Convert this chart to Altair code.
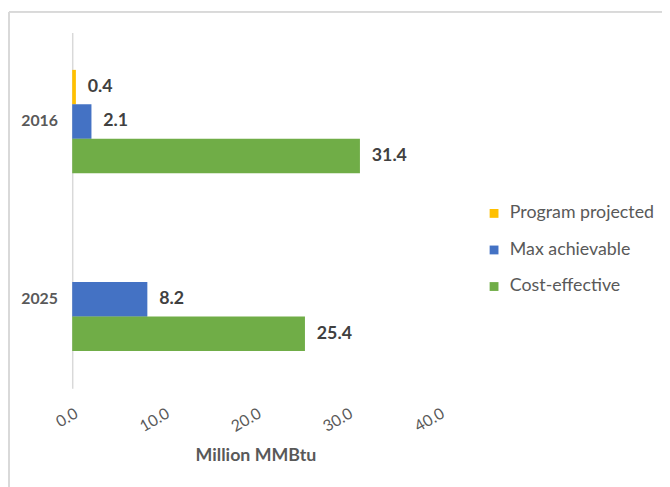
import altair as alt
import pandas as pd

years = ["2016", "2016", "2016", "2025", "2025"]
series = ["Program projected", "Max achievable", "Cost-effective", "Max achievable", "Cost-effective"]
values = [0.4, 2.1, 31.4, 8.2, 25.4]

series_order = ["Program projected", "Max achievable", "Cost-effective"]
series_colors = ["#FFC000", "#4472C4", "#70AD47"]
x_ticks = [0, 10, 20, 30, 40]

df = pd.DataFrame({"year": years, "series": series, "value": values})

W, H = 371, 360
FONT = "Lato"

y_enc = alt.Y("year:N", sort=["2016", "2025"],
              scale=alt.Scale(paddingInner=0.42, paddingOuter=0.21),
              axis=alt.Axis(title=None, ticks=False, labelFontWeight="bold",
                            labelFontSize=16, labelColor="#595959", labelPadding=15,
                            domainColor="#D9D9D9", domainWidth=1.5, labelFont=FONT))
yoff = alt.YOffset("series:N", sort=series_order,
                   scale=alt.Scale(domain=series_order, paddingInner=0, paddingOuter=0))
x_enc = alt.X("value:Q", scale=alt.Scale(domain=[0, 40], nice=False),
              axis=alt.Axis(values=x_ticks, format=".1f", grid=False, domain=False,
                            ticks=False, labelAngle=330, labelAlign="right",
                            labelBaseline="top", labelPadding=17, labelFontSize=16,
                            labelColor="#595959", labelFont=FONT,
                            title="Million MMBtu", titleFontSize=18, titleFontWeight="bold",
                            titleColor="#595959", titleFont=FONT, titleY=68,
                            titleBaseline="middle"))

bars = alt.Chart(df).mark_bar(size=35).encode(
    x=x_enc, y=y_enc, yOffset=yoff,
    color=alt.Color("series:N", sort=series_order,
                    scale=alt.Scale(domain=series_order, range=series_colors),
                    legend=alt.Legend(title=None, orient="none", legendX=418, legendY=174,
                                      symbolType="square", symbolSize=80,
                                      labelFontSize=18, labelColor="#595959",
                                      labelFont=FONT, rowPadding=19, labelOffset=7)),
)

texts = alt.Chart(df).mark_text(align="left", baseline="middle", dx=12,
                                fontSize=18, fontWeight="bold", color="#404040",
                                font=FONT).encode(
    x="value:Q", y=alt.Y("year:N", sort=["2016", "2025"]), yOffset=yoff,
    text=alt.Text("value:Q", format=".1f"))

frame_top = alt.Chart(df).mark_rule(color="#D9D9D9", strokeWidth=1.5).encode(
    y=alt.value(-21), x=alt.value(-64), x2=alt.value(W + 240))
frame_left = alt.Chart(df).mark_rule(color="#D9D9D9", strokeWidth=1.5).encode(
    x=alt.value(-64), y=alt.value(-21), y2=alt.value(H + 110))

chart = alt.layer(frame_top, frame_left, bars, texts).properties(
    width=W, height=H,
    autosize=alt.AutoSizeParams(type="none"),
    padding={"left": 65, "top": 22, "right": 226, "bottom": 97},
).configure_view(stroke=None)

chart.save("out.html", embed_options={"renderer": "svg", "actions": False})
